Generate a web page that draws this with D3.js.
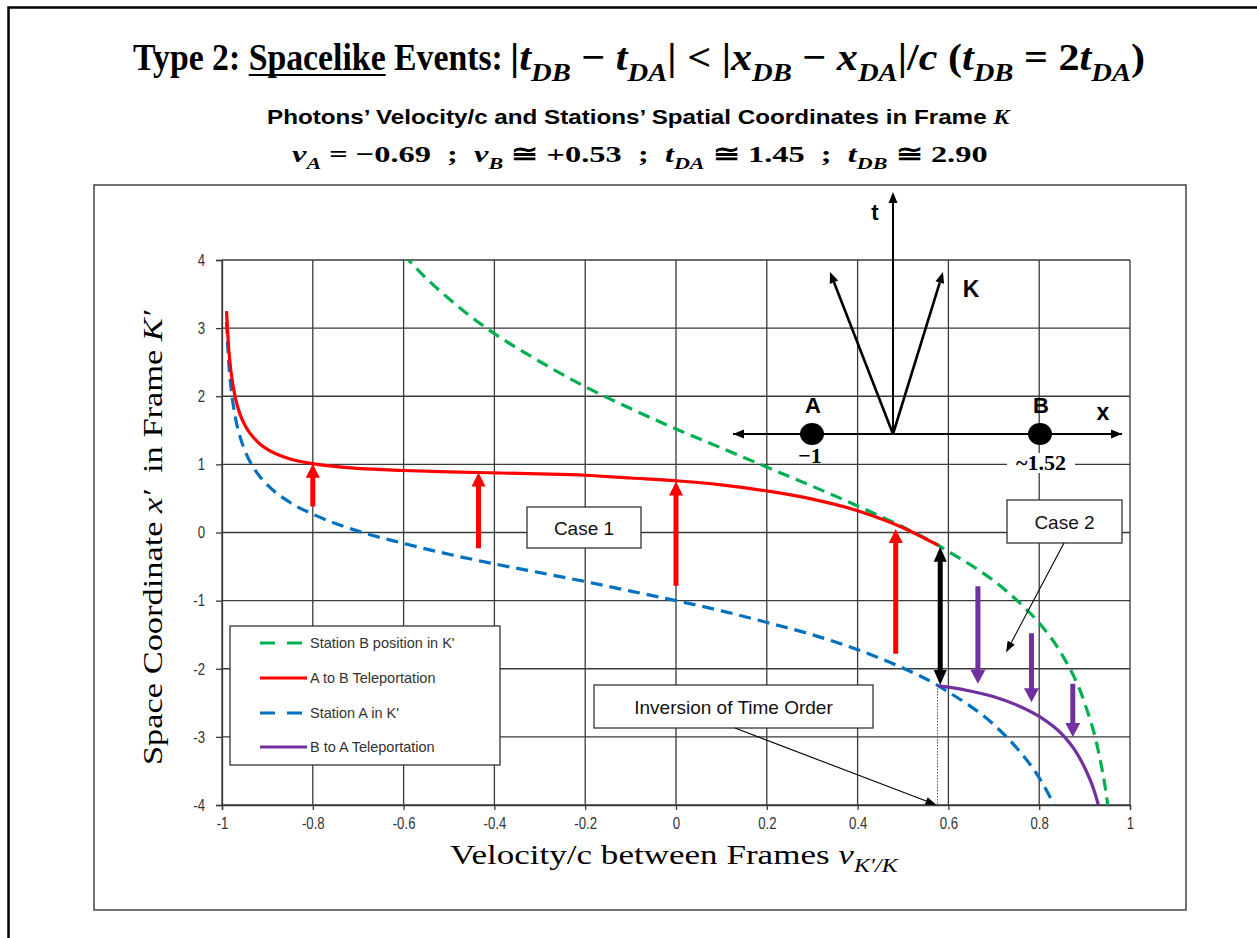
<!DOCTYPE html>
<html><head><meta charset="utf-8">
<script src="https://cdn.jsdelivr.net/npm/d3@7"></script>
<style>body{margin:0;background:#fff}svg{display:block}</style>
</head><body>
<svg id="chart" width="1257" height="938"></svg>
<script>
// ---- axis ticks ----
const xTicks = [-1, -0.8, -0.6, -0.4, -0.2, 0, 0.2, 0.4, 0.6, 0.8, 1];
const xTickLabels = ["-1", "-0.8", "-0.6", "-0.4", "-0.2", "0", "0.2", "0.4", "0.6", "0.8", "1"];
const yTicks = [-4, -3, -2, -1, 0, 1, 2, 3, 4];
const yTickLabels = ["-4", "-3", "-2", "-1", "0", "1", "2", "3", "4"];

// ---- Station B position in K' ----
const stationBVel = [-0.6, -0.55, -0.5, -0.45, -0.4, -0.3, -0.2, -0.1, 0, 0.1, 0.2, 0.3, 0.4, 0.5, 0.578, 0.6, 0.65, 0.7, 0.75, 0.8, 0.85, 0.9, 0.93, 0.95, 0.96];
const stationBPos = [4.08, 3.73, 3.43, 3.16, 2.92, 2.51, 2.14, 1.82, 1.52, 1.24, 0.96, 0.68, 0.39, 0.08, -0.19, -0.28, -0.48, -0.71, -0.99, -1.33, -1.79, -2.50, -3.20, -3.95, -4.51];

// ---- Station A in K' ----
const stationAVel = [-0.99, -0.985, -0.98, -0.97, -0.96, -0.95, -0.92, -0.9, -0.85, -0.8, -0.7, -0.6, -0.5, -0.4, -0.3, -0.2, -0.1, 0, 0.1, 0.2, 0.3, 0.4, 0.5, 0.578, 0.6, 0.7, 0.75, 0.8, 0.84];
const stationAPos = [3.09, 2.48, 2.12, 1.67, 1.40, 1.21, 0.85, 0.70, 0.44, 0.27, 0.02, -0.16, -0.32, -0.46, -0.59, -0.72, -0.86, -1.00, -1.15, -1.32, -1.50, -1.72, -1.99, -2.25, -2.34, -2.82, -3.16, -3.60, -4.09];

// ---- A to B teleportation ----
const abVel = [-0.99, -0.985, -0.98, -0.97, -0.96, -0.95, -0.92, -0.9, -0.85, -0.8, -0.7, -0.6, -0.5, -0.4, -0.3, -0.2, -0.1, 0, 0.1, 0.2, 0.3, 0.4, 0.5, 0.578];
const abPos = [3.25, 2.68, 2.35, 1.96, 1.73, 1.58, 1.32, 1.22, 1.08, 1.01, 0.94, 0.91, 0.89, 0.875, 0.86, 0.84, 0.80, 0.76, 0.70, 0.61, 0.49, 0.32, 0.07, -0.19];

// ---- B to A teleportation ----
const baVel = [0.578, 0.6, 0.65, 0.7, 0.75, 0.8, 0.85, 0.88, 0.9, 0.92, 0.93, 0.94];
const baPos = [-2.25, -2.27, -2.33, -2.41, -2.53, -2.70, -2.96, -3.21, -3.45, -3.77, -3.99, -4.26];

// ---- vertical arrows: velocity, start, end ----
const redArrowVel = [-0.8, -0.435, 0, 0.484];
const redArrowFrom = [0.38, -0.23, -0.78, -1.78];
const redArrowTo = [1.01, 0.88, 0.75, 0.05];
const purpleArrowVel = [0.665, 0.783, 0.874];
const purpleArrowFrom = [-0.79, -1.48, -2.22];
const purpleArrowTo = [-2.22, -2.49, -3.0];
const inversionVel = 0.582;
const inversionTop = -0.21;
const inversionBottom = -2.24;
const simultaneityVel = 0.576;

const legendLabels = ["Station B position in K'", "A to B Teleportation", "Station A in K'", "B to A Teleportation"];

const colors = { green: "#00b050", red: "#ff0000", blue: "#0070c0", purple: "#7030a0" };

const svg = d3.select("#chart");
const W = 1257, H = 938;
svg.append("rect").attr("width", W).attr("height", H).attr("fill", "#fff");
// page frame (top and left edges)
svg.append("path").attr("d", "M8.5,938 V7.5 H1257").attr("fill", "none").attr("stroke", "#000").attr("stroke-width", 2.5);
// chart box
svg.append("rect").attr("x", 94).attr("y", 185).attr("width", 1186 - 94).attr("height", 910 - 185)
  .attr("fill", "#fff").attr("stroke", "#444").attr("stroke-width", 1.5);

const plot = { left: 222, right: 1130, top: 260, bottom: 805 };
const x = d3.scaleLinear().domain([-1, 1]).range([plot.left, plot.right]);
const y = d3.scaleLinear().domain([-4, 4]).range([plot.bottom, plot.top]);

// ---------- rich text helpers ----------
function rich(parent, px, py, parts, base) {
  const t = parent.append("text").attr("x", px).attr("y", py)
    .attr("font-family", base.family).attr("font-size", base.size)
    .attr("font-weight", base.weight || "normal").attr("fill", base.fill || "#000")
    .style("white-space", "pre");
  if (base.anchor) t.attr("text-anchor", base.anchor);
  let shifted = 0;
  parts.forEach(p => {
    const s = t.append("tspan").text(p.t);
    const target = p.sub ? base.size * 0.28 : 0;
    if (target !== shifted) { s.attr("dy", target - shifted); shifted = target; }
    if (p.sub) s.attr("font-size", base.size * 0.68);
    if (p.i) s.attr("font-style", "italic");
    if (p.f) s.attr("font-family", p.f);
    if (p.w) s.attr("font-weight", p.w);
    if (p.u) s.classed("ul", true);
  });
  return t;
}
function fitX(g, left, right) {
  const bb = g.node().getBBox();
  const sx = (right - left) / bb.width;
  g.attr("transform", `translate(${left - bb.x * sx},0) scale(${sx},1)`);
}

// ---------- title ----------
const serif = "'Liberation Serif', 'DejaVu Serif', serif";
const sans = "'Liberation Sans', Arial, sans-serif";
const titleTextG = svg.append("g");
const title = rich(titleTextG, 0, 70, [
  { t: "Type 2: " }, { t: "Spacelike", u: true }, { t: " Events:" }
], { family: serif, size: 38, weight: "bold" });
const ulBox = title.select("tspan.ul").node().getBBox();
titleTextG.append("line").attr("x1", ulBox.x).attr("x2", ulBox.x + ulBox.width)
  .attr("y1", 75).attr("y2", 75).attr("stroke", "#000").attr("stroke-width", 2);
fitX(titleTextG, 133, 503);

const titleMathG = svg.append("g");
rich(titleMathG, 0, 70, [
  { t: "|" }, { t: "t", i: 1 }, { t: "DB", sub: 1, i: 1 }, { t: " − " }, { t: "t", i: 1 }, { t: "DA", sub: 1, i: 1 },
  { t: "| < |" }, { t: "x", i: 1 }, { t: "DB", sub: 1, i: 1 }, { t: " − " }, { t: "x", i: 1 }, { t: "DA", sub: 1, i: 1 },
  { t: "|/" }, { t: "c", i: 1 }, { t: " (" }, { t: "t", i: 1 }, { t: "DB", sub: 1, i: 1 }, { t: " = 2" },
  { t: "t", i: 1 }, { t: "DA", sub: 1, i: 1 }, { t: ")" }
], { family: serif, size: 38, weight: "bold" });
fitX(titleMathG, 510, 1145);

// ---------- subtitles ----------
const sub1G = svg.append("g");
rich(sub1G, 0, 124, [
  { t: "Photons’ Velocity/c and Stations’ Spatial Coordinates in Frame " },
  { t: "K", i: 1, f: serif }
], { family: sans, size: 21, weight: "bold" });
fitX(sub1G, 267, 1012);

const sub2G = svg.append("g");
rich(sub2G, 0, 162, [
  { t: "v", i: 1 }, { t: "A", sub: 1, i: 1 }, { t: " = −0.69  ;  " },
  { t: "v", i: 1 }, { t: "B", sub: 1, i: 1 }, { t: " ≅ +0.53  ;  " },
  { t: "t", i: 1 }, { t: "DA", sub: 1, i: 1 }, { t: " ≅ 1.45  ;  " },
  { t: "t", i: 1 }, { t: "DB", sub: 1, i: 1 }, { t: " ≅ 2.90" }
], { family: serif, size: 24, weight: "bold" });
fitX(sub2G, 292, 987);

// ---------- grid ----------
const grid = svg.append("g").attr("stroke", "#3a3a3a").attr("stroke-width", 1.3);
grid.selectAll("line.v").data(xTicks).join("line").attr("class", "v")
  .attr("x1", d => x(d)).attr("x2", d => x(d)).attr("y1", plot.top).attr("y2", plot.bottom);
grid.selectAll("line.h").data(yTicks).join("line").attr("class", "h")
  .attr("y1", d => y(d)).attr("y2", d => y(d)).attr("x1", plot.left).attr("x2", plot.right);

// ---------- axes ----------
const xAxis = svg.append("g").attr("transform", `translate(0,${plot.bottom})`)
  .call(d3.axisBottom(x).tickValues(xTicks).tickFormat((d, i) => xTickLabels[i]).tickSize(5).tickPadding(7));
const yAxis = svg.append("g").attr("transform", `translate(${plot.left},0)`)
  .call(d3.axisLeft(y).tickValues(yTicks).tickFormat((d, i) => yTickLabels[i]).tickSize(6).tickPadding(11));
[xAxis, yAxis].forEach(a => {
  a.select(".domain").attr("stroke", "#3a3a3a").attr("stroke-width", 1.3);
  a.selectAll(".tick line").attr("stroke", "#3a3a3a").attr("stroke-width", 1.3);
  a.selectAll(".tick text").attr("font-family", sans).attr("font-size", 16.5).attr("fill", "#333");
});
// narrow the tick labels horizontally
xAxis.selectAll(".tick text").attr("transform", "scale(0.8,1)");
yAxis.selectAll(".tick text").each(function () {
  const t = d3.select(this);
  const tx = +t.attr("x");
  t.attr("x", 0).attr("transform", `translate(${tx},0) scale(0.8,1)`);
});

// axis titles
const xtG = svg.append("g");
rich(xtG, 0, 864, [
  { t: "Velocity/c between Frames " }, { t: "v", i: 1 }, { t: "K′/K", sub: 1, i: 1 }
], { family: serif, size: 27 });
fitX(xtG, 450, 900);

const ytOuter = svg.append("g").attr("transform", "translate(162,537) rotate(-90)");
const ytG = ytOuter.append("g");
rich(ytG, 0, 0, [
  { t: "Space Coordinate " }, { t: "x′", i: 1 }, { t: "  in Frame " }, { t: "K′", i: 1 }
], { family: serif, size: 27 });
fitX(ytG, -228, 228);

// ---------- curves ----------
svg.append("clipPath").attr("id", "plotClip").append("rect")
  .attr("x", plot.left).attr("y", plot.top).attr("width", plot.right - plot.left).attr("height", plot.bottom - plot.top);
const curves = svg.append("g").attr("clip-path", "url(#plotClip)").attr("fill", "none");
const line = d3.line().x(d => x(d[0])).y(d => y(d[1])).curve(d3.curveMonotoneX);
const zipPts = (vs, ps) => vs.map((v, i) => [v, ps[i]]);

curves.append("path").attr("d", line(zipPts(stationAVel, stationAPos)))
  .attr("stroke", colors.blue).attr("stroke-width", 3.2).attr("stroke-dasharray", "12,7");
curves.append("path").attr("d", line(zipPts(stationBVel, stationBPos)))
  .attr("stroke", colors.green).attr("stroke-width", 3.2).attr("stroke-dasharray", "12,7");
curves.append("path").attr("d", line(zipPts(abVel, abPos)))
  .attr("stroke", colors.red).attr("stroke-width", 3.2);
curves.append("path").attr("d", line(zipPts(baVel, baPos)))
  .attr("stroke", colors.purple).attr("stroke-width", 3.2);

// dotted marker for simultaneous events
svg.append("line").attr("x1", x(simultaneityVel)).attr("x2", x(simultaneityVel))
  .attr("y1", y(inversionBottom)).attr("y2", y(-4))
  .attr("stroke", "#555").attr("stroke-width", 1).attr("stroke-dasharray", "1.5,1.5");

// ---------- block arrows ----------
function blockArrow(g, px, yTail, yTip, color, shaft, headW, headL, both) {
  const dir = yTip < yTail ? -1 : 1;
  const hs = shaft / 2, hw = headW / 2;
  const baseTip = yTip - dir * headL;
  let pts;
  if (!both) {
    pts = [[px - hs, yTail], [px - hs, baseTip], [px - hw, baseTip], [px, yTip], [px + hw, baseTip], [px + hs, baseTip], [px + hs, yTail]];
  } else {
    const baseTail = yTail + dir * headL;
    pts = [[px, yTail], [px - hw, baseTail], [px - hs, baseTail], [px - hs, baseTip], [px - hw, baseTip], [px, yTip],
           [px + hw, baseTip], [px + hs, baseTip], [px + hs, baseTail], [px + hw, baseTail]];
  }
  g.append("polygon").attr("points", pts.map(p => p.join(",")).join(" ")).attr("fill", color);
}
const arrows = svg.append("g");
redArrowVel.forEach((v, i) => blockArrow(arrows, x(v), y(redArrowFrom[i]), y(redArrowTo[i]), colors.red, 5, 14, 14));
purpleArrowVel.forEach((v, i) => blockArrow(arrows, x(v), y(purpleArrowFrom[i]), y(purpleArrowTo[i]), colors.purple, 5, 15, 14));
blockArrow(arrows, x(inversionVel), y(inversionBottom), y(inversionTop), "#000", 5, 13, 15, true);

// ---------- thin pointer arrows ----------
function thinArrow(g, x1, y1, x2, y2, w, headL, headW) {
  const ang = Math.atan2(y2 - y1, x2 - x1);
  const bx = x2 - headL * Math.cos(ang), by = y2 - headL * Math.sin(ang);
  g.append("line").attr("x1", x1).attr("y1", y1).attr("x2", bx).attr("y2", by)
    .attr("stroke", "#000").attr("stroke-width", w);
  const nx = -Math.sin(ang) * headW / 2, ny = Math.cos(ang) * headW / 2;
  g.append("polygon").attr("points", `${x2},${y2} ${bx + nx},${by + ny} ${bx - nx},${by - ny}`).attr("fill", "#000");
}

// ---------- callout boxes ----------
function callout(bx, by, bw, bh, label) {
  svg.append("rect").attr("x", bx).attr("y", by).attr("width", bw).attr("height", bh)
    .attr("fill", "#fff").attr("stroke", "#333").attr("stroke-width", 1.3);
  svg.append("text").attr("x", bx + bw / 2).attr("y", by + bh / 2 + 7).attr("text-anchor", "middle")
    .attr("font-family", sans).attr("font-size", 19).attr("fill", "#111").text(label);
}
callout(527, 507, 114, 41, "Case 1");
callout(1007, 500, 115, 43, "Case 2");
callout(594, 685, 279, 43, "Inversion of Time Order");
const pointers = svg.append("g");
thinArrow(pointers, 1064, 543, x(0.727), y(-1.76), 1.1, 11, 8);
thinArrow(pointers, 735, 728, x(simultaneityVel) - 1, y(-4), 1.1, 11, 8);

// ---------- legend ----------
const legend = svg.append("g");
legend.append("rect").attr("x", 230).attr("y", 626).attr("width", 270).attr("height", 139)
  .attr("fill", "#fff").attr("stroke", "#333").attr("stroke-width", 1.3);
const legendColors = [colors.green, colors.red, colors.blue, colors.purple];
const legendDash = ["15,12", null, "15,12", null];
const legendRowY = [643, 678, 713, 747];
legendLabels.forEach((lab, i) => {
  const ln = legend.append("line").attr("x1", 260).attr("x2", i % 2 ? 307 : 302)
    .attr("y1", legendRowY[i]).attr("y2", legendRowY[i])
    .attr("stroke", legendColors[i]).attr("stroke-width", 3.2);
  if (legendDash[i]) ln.attr("stroke-dasharray", legendDash[i]);
  legend.append("text").attr("x", 310).attr("y", legendRowY[i] + 5)
    .attr("font-family", sans).attr("font-size", 14.5).attr("fill", "#333").text(lab);
});

// ---------- inset: frame K sketch ----------
const inset = svg.append("g").attr("transform", "translate(893,434)");
function insetArrow(x1, y1, x2, y2, w, both) {
  thinArrow(inset, x1, y1, x2, y2, w, 11, 9);
  if (both) thinArrow(inset, x2, y2, x1, y1, w, 11, 9);
}
insetArrow(0, 0, 0, -242, 2);
insetArrow(-160, 0, 229, 0, 2, true);
insetArrow(0, 0, -63, -162, 2.6);
insetArrow(0, 0, 50, -162, 2.6);
inset.append("ellipse").attr("cx", -81).attr("cy", 0).attr("rx", 12).attr("ry", 11).attr("fill", "#000");
inset.append("ellipse").attr("cx", 147).attr("cy", 0).attr("rx", 12).attr("ry", 11).attr("fill", "#000");
const boldLabel = (tx, ty, s, size, anchor) => inset.append("text").attr("x", tx).attr("y", ty)
  .attr("text-anchor", anchor || "middle").attr("font-family", sans).attr("font-weight", "bold")
  .attr("font-size", size).attr("fill", "#000").text(s);
boldLabel(-18, -214, "t", 22);
boldLabel(78, -137, "K", 23);
boldLabel(-80, -21, "A", 22);
boldLabel(148, -21, "B", 22);
boldLabel(210, -14, "x", 23);
inset.append("text").attr("x", -83).attr("y", 29).attr("text-anchor", "middle")
  .attr("font-family", serif).attr("font-weight", "bold").attr("font-size", 22).text("−1");
inset.append("rect").attr("x", 114).attr("y", 19).attr("width", 68).attr("height", 20).attr("fill", "#fff");
inset.append("text").attr("x", 148).attr("y", 36).attr("text-anchor", "middle")
  .attr("font-family", serif).attr("font-weight", "bold").attr("font-size", 22).text("~1.52");
</script>
</body></html>
